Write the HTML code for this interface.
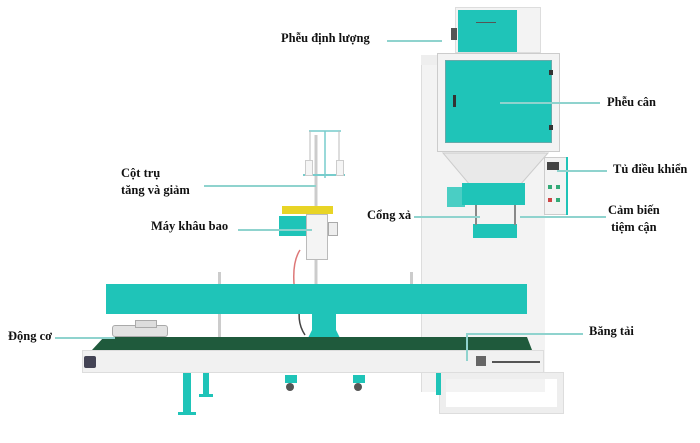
<!DOCTYPE html>
<html><head><meta charset="utf-8"><style>
body{margin:0;width:700px;height:443px;background:#fff;position:relative;overflow:hidden;font-family:"Liberation Serif",serif}
div{position:absolute;box-sizing:border-box}
.t{background:#1fc4b8}
.w{background:#f3f3f3}
.lb{font-weight:bold;font-size:12.5px;color:#111;white-space:nowrap;line-height:17px}
.ln{background:#8fd3ce;height:1.5px}
</style></head><body>
<div class="w" style="left:421px;top:60px;width:124px;height:332px;border-left:1px solid #ddd"></div>
<div style="left:421px;top:55px;width:16px;height:10px;background:#eee"></div>
<div class="w" style="left:455px;top:7px;width:86px;height:46px;border:1px solid #ddd"></div>
<div class="t" style="left:458px;top:10px;width:59px;height:42px"></div>
<div style="left:476px;top:22px;width:20px;height:1px;background:#555"></div>
<div style="left:451px;top:28px;width:6px;height:12px;background:#555"></div>
<div class="w" style="left:437px;top:53px;width:123px;height:99px;border:1px solid #ccc"></div>
<div class="t" style="left:445px;top:60px;width:107px;height:83px;border:1px solid #6aa"></div>
<div style="left:453px;top:95px;width:3px;height:12px;background:#333"></div>
<div style="left:549px;top:70px;width:4px;height:5px;background:#333"></div>
<div style="left:549px;top:125px;width:4px;height:5px;background:#333"></div>
<svg style="position:absolute;left:0;top:0" width="700" height="443">
<polygon points="443,153 548,153 520,185 470,185" fill="#e9e9e9" stroke="#ccc"/>
<line x1="316" y1="135" x2="316" y2="285" stroke="#ccc" stroke-width="3"/>
<line x1="309" y1="131" x2="341" y2="131" stroke="#7cc" stroke-width="1.5"/>
<line x1="325" y1="131" x2="325" y2="178" stroke="#7cc" stroke-width="1.5"/>
<line x1="310" y1="131" x2="310" y2="165" stroke="#bbb"/>
<line x1="339" y1="131" x2="339" y2="165" stroke="#bbb"/>
<line x1="303" y1="175" x2="345" y2="175" stroke="#7cc" stroke-width="2"/>
<path d="M300 250 Q290 265 296 300" stroke="#d77" stroke-width="1.5" fill="none"/>
<path d="M302 300 Q295 320 305 335" stroke="#444" stroke-width="1.5" fill="none"/>
<polygon points="312,314 336,314 336,330 340,338 308,338 312,330" fill="#1fc4b8"/>
</svg>
<div style="left:305px;top:160px;width:8px;height:16px;background:#f5f5f5;border:1px solid #ccc"></div>
<div style="left:336px;top:160px;width:8px;height:16px;background:#f5f5f5;border:1px solid #ccc"></div>
<div class="w" style="left:544px;top:157px;width:24px;height:58px;border:1px solid #ccc"></div>
<div class="t" style="left:566px;top:157px;width:2px;height:58px"></div>
<div style="left:547px;top:162px;width:12px;height:8px;background:#444"></div>
<div style="left:548px;top:185px;width:4px;height:4px;background:#3a7"></div>
<div style="left:556px;top:185px;width:4px;height:4px;background:#3a7"></div>
<div style="left:548px;top:198px;width:4px;height:4px;background:#c44"></div>
<div style="left:556px;top:198px;width:4px;height:4px;background:#3a7"></div>
<div class="t" style="left:462px;top:183px;width:63px;height:22px"></div>
<div class="t" style="left:447px;top:187px;width:18px;height:20px;opacity:.8"></div>
<div class="t" style="left:473px;top:224px;width:44px;height:14px"></div>
<div style="left:475px;top:205px;width:2px;height:20px;background:#888"></div>
<div style="left:514px;top:205px;width:2px;height:20px;background:#888"></div>
<div style="left:282px;top:206px;width:51px;height:8px;background:#e8d426"></div>
<div class="t" style="left:279px;top:216px;width:27px;height:20px"></div>
<div style="left:306px;top:214px;width:22px;height:46px;background:#f4f4f4;border:1px solid #bbb"></div>
<div style="left:328px;top:222px;width:10px;height:14px;background:#eee;border:1px solid #aaa"></div>
<div class="t" style="left:106px;top:284px;width:421px;height:30px"></div>
<div style="left:218px;top:272px;width:3px;height:12px;background:#ccc"></div>
<div style="left:218px;top:314px;width:3px;height:23px;background:#ccc"></div>
<div style="left:410px;top:272px;width:3px;height:12px;background:#ccc"></div>
<div style="left:112px;top:325px;width:56px;height:12px;background:#e2e2e2;border:1px solid #aaa;border-radius:3px"></div>
<div style="left:135px;top:320px;width:22px;height:8px;background:#ddd;border:1px solid #aaa"></div>
<svg style="position:absolute;left:0;top:0" width="700" height="443">
<polygon points="92,350 104,337 527,337 532,350" fill="#1f5a3c"/>
</svg>
<div style="left:82px;top:350px;width:462px;height:23px;background:#f1f1f1;border:1px solid #ddd"></div>
<div style="left:84px;top:356px;width:12px;height:12px;background:#445;border-radius:2px"></div>
<div style="left:476px;top:356px;width:10px;height:10px;background:#666"></div>
<div style="left:492px;top:361px;width:48px;height:1.5px;background:#555"></div>
<div style="left:440px;top:373px;width:123px;height:40px;border:6px solid #eee;outline:1px solid #ddd"></div>
<div class="t" style="left:183px;top:373px;width:8px;height:40px"></div>
<div class="t" style="left:178px;top:412px;width:18px;height:3px"></div>
<div class="t" style="left:203px;top:373px;width:6px;height:22px"></div>
<div class="t" style="left:199px;top:394px;width:14px;height:3px"></div>
<div class="t" style="left:436px;top:373px;width:5px;height:22px"></div>
<div class="t" style="left:285px;top:375px;width:12px;height:8px"></div>
<div style="left:286px;top:383px;width:8px;height:8px;background:#555;border-radius:50%"></div>
<div class="t" style="left:353px;top:375px;width:12px;height:8px"></div>
<div style="left:354px;top:383px;width:8px;height:8px;background:#555;border-radius:50%"></div>
<div class="ln" style="left:387px;top:40px;width:55px"></div>
<div class="lb" style="left:281px;top:30px">Phễu định lượng</div>
<div class="ln" style="left:500px;top:102px;width:100px"></div>
<div class="lb" style="left:607px;top:94px">Phễu cân</div>
<div class="ln" style="left:557px;top:170px;width:50px"></div>
<div class="lb" style="left:613px;top:161px">Tủ điều khiển</div>
<div class="lb" style="left:121px;top:165px">Cột trụ<br>tăng và giảm</div>
<div class="ln" style="left:204px;top:185px;width:112px"></div>
<div class="lb" style="left:151px;top:218px">Máy khâu bao</div>
<div class="ln" style="left:238px;top:229px;width:74px"></div>
<div class="lb" style="left:367px;top:207px">Cổng xả</div>
<div class="ln" style="left:414px;top:216px;width:66px"></div>
<div class="ln" style="left:520px;top:216px;width:86px"></div>
<div class="lb" style="left:608px;top:202px;text-align:center">Cảm biến<br>tiệm cận</div>
<div class="ln" style="left:55px;top:337px;width:60px"></div>
<div class="lb" style="left:8px;top:328px">Động cơ</div>
<div class="ln" style="left:466px;top:333px;width:117px"></div>
<div class="ln" style="left:466px;top:333px;width:1.5px;height:28px"></div>
<div class="lb" style="left:589px;top:323px">Băng tải</div>
</body></html>
